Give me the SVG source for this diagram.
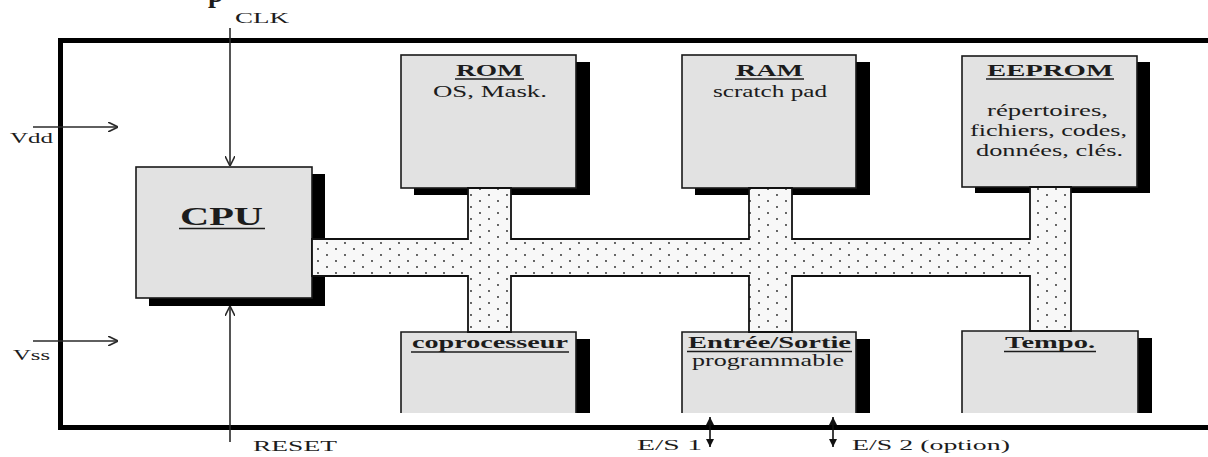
<svg xmlns="http://www.w3.org/2000/svg" width="1208" height="457" viewBox="0 0 1208 457">
<style>
.t{font-family:"Liberation Serif","DejaVu Serif",serif;fill:#1c1c1c;font-size:15px}
.m{font-size:16px}
.c{font-size:25px}
.b{font-weight:bold}
.box{fill:#e2e2e2;stroke:#1a1a1a;stroke-width:1.6}
.sh{fill:#000}
.ul{stroke:#1c1c1c;stroke-width:1.4}
.ar{stroke:#2a2a2a;stroke-width:1.6;fill:none}
</style>
<defs>
<pattern id="dots" width="18" height="12" patternUnits="userSpaceOnUse">
<rect width="18" height="12" fill="#f8f8f8"/>
<circle cx="3" cy="3" r="0.9" fill="#222"/>
<circle cx="12" cy="9" r="0.9" fill="#222"/>
</pattern>
<marker id="ah" viewBox="0 0 10 10" refX="10" refY="5" markerWidth="10" markerHeight="10" markerUnits="userSpaceOnUse" orient="auto">
<path d="M0,0 L10,5 L0,10" fill="none" stroke="#2a2a2a" stroke-width="1.6"/>
</marker>
<marker id="fa" viewBox="0 0 8 8" refX="8" refY="4" markerWidth="8" markerHeight="8" markerUnits="userSpaceOnUse" orient="auto-start-reverse">
<path d="M0,0 L8,4 L0,8 z" fill="#111"/>
</marker>
</defs>
<rect width="1208" height="457" fill="#fff"/>
<text class="t b" x="208" y="2" style="font-size:28px">p</text>
<!-- frame -->
<path d="M1212,40.5 H60.5 V427.5 H1212" fill="none" stroke="#000" stroke-width="5"/>

<g id="cpu">
<rect class="sh" x="149" y="174" width="176" height="132"/>
<rect class="box" x="136" y="167" width="176" height="131"/>
<text class="t b c" x="180" y="225" textLength="83" lengthAdjust="spacingAndGlyphs">CPU</text>
<line class="ul" x1="179" y1="228.5" x2="265" y2="228.5"/>
</g>
<g id="rom">
<rect class="sh" x="414" y="62" width="176" height="133"/>
<rect class="box" x="401" y="55" width="175" height="133"/>
<text class="t b m" x="456" y="76" textLength="67" lengthAdjust="spacingAndGlyphs">ROM</text>
<line class="ul" x1="455" y1="79" x2="524" y2="79"/>
<text class="t m" x="433" y="97" textLength="114" lengthAdjust="spacingAndGlyphs">OS, Mask.</text>
</g>
<g id="ram">
<rect class="sh" x="695" y="62" width="175" height="133"/>
<rect class="box" x="682" y="55" width="174" height="133"/>
<text class="t b m" x="736" y="76" textLength="67" lengthAdjust="spacingAndGlyphs">RAM</text>
<line class="ul" x1="735" y1="79" x2="804" y2="79"/>
<text class="t m" x="713" y="97" textLength="114" lengthAdjust="spacingAndGlyphs">scratch pad</text>
</g>
<g id="eeprom">
<rect class="sh" x="975" y="62" width="175" height="131"/>
<rect class="box" x="962" y="56" width="175" height="131"/>
<text class="t b m" x="987" y="76" textLength="126" lengthAdjust="spacingAndGlyphs">EEPROM</text>
<line class="ul" x1="986" y1="79" x2="1114" y2="79"/>
<text class="t m" x="987" y="116" textLength="121" lengthAdjust="spacingAndGlyphs">répertoires,</text>
<text class="t m" x="970" y="136" textLength="157" lengthAdjust="spacingAndGlyphs">fichiers, codes,</text>
<text class="t m" x="976" y="156" textLength="147" lengthAdjust="spacingAndGlyphs">données, clés.</text>
</g>
<g id="coprocesseur">
<rect class="sh" x="414" y="339" width="176" height="74"/>
<rect x="401" y="332" width="175" height="81" fill="#e2e2e2"/>
<path d="M401,413 V332 H576 V413" fill="none" stroke="#1a1a1a" stroke-width="1.6"/>
<text class="t b m" x="412" y="348" textLength="156" lengthAdjust="spacingAndGlyphs">coprocesseur</text>
<line class="ul" x1="411" y1="352" x2="569" y2="352"/>
</g>
<g id="es">
<rect class="sh" x="695" y="339" width="175" height="74"/>
<rect x="682" y="332" width="174" height="81" fill="#e2e2e2"/>
<path d="M682,413 V332 H856 V413" fill="none" stroke="#1a1a1a" stroke-width="1.6"/>
<text class="t b m" x="688" y="348" textLength="163" lengthAdjust="spacingAndGlyphs">Entrée/Sortie</text>
<line class="ul" x1="687" y1="351.5" x2="852" y2="351.5"/>
<text class="t m" x="692" y="366" textLength="152" lengthAdjust="spacingAndGlyphs">programmable</text>
</g>
<g id="tempo">
<rect class="sh" x="975" y="338" width="177" height="75"/>
<rect x="962" y="331" width="176" height="82" fill="#e2e2e2"/>
<path d="M962,413 V331 H1138 V413" fill="none" stroke="#1a1a1a" stroke-width="1.6"/>
<text class="t b m" x="1005" y="348" textLength="90" lengthAdjust="spacingAndGlyphs">Tempo.</text>
<line class="ul" x1="1004" y1="351.5" x2="1096" y2="351.5"/>
</g>
<g id="bus">
<path d="M312,239 H468 V188 H511 V239 H749 V188 H792 V239 H1030 V187 H1071 V331 H1030 V276 H792 V332 H749 V276 H511 V332 H468 V276 H312 Z" fill="url(#dots)" stroke="#111" stroke-width="1.8"/>
</g>
<g id="connectors">
<line class="ar" x1="230" y1="28" x2="230" y2="166" marker-end="url(#ah)"/>
<line class="ar" x1="230" y1="442" x2="230" y2="306" marker-end="url(#ah)"/>
<line class="ar" x1="33" y1="127" x2="118" y2="127" marker-end="url(#ah)"/>
<line class="ar" x1="33" y1="341" x2="118" y2="341" marker-end="url(#ah)"/>
<line x1="710" y1="417" x2="710" y2="447" stroke="#111" stroke-width="1.6" marker-start="url(#fa)" marker-end="url(#fa)"/>
<line x1="833" y1="417" x2="833" y2="447" stroke="#111" stroke-width="1.6" marker-start="url(#fa)" marker-end="url(#fa)"/>
</g>
<g id="labels">
<text class="t" x="235" y="23" textLength="54" lengthAdjust="spacingAndGlyphs">CLK</text>
<text class="t" x="10" y="143" textLength="43" lengthAdjust="spacingAndGlyphs">Vdd</text>
<text class="t" x="13" y="360" textLength="37" lengthAdjust="spacingAndGlyphs">Vss</text>
<text class="t" x="253" y="451" textLength="84" lengthAdjust="spacingAndGlyphs">RESET</text>
<text class="t" x="637" y="450" textLength="65" lengthAdjust="spacingAndGlyphs">E/S 1</text>
<text class="t" x="852" y="450" textLength="158" lengthAdjust="spacingAndGlyphs">E/S 2 (option)</text>
</g>
</svg>
